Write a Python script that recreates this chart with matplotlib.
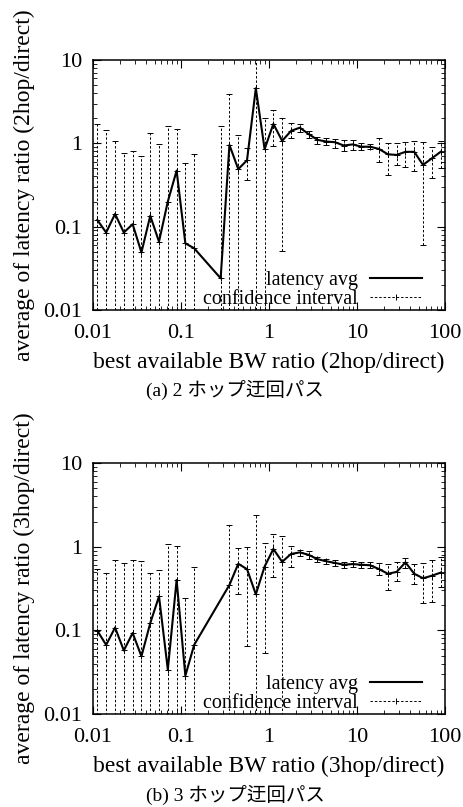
import matplotlib
matplotlib.use("Agg")
import matplotlib.pyplot as plt
from matplotlib.lines import Line2D

plt.rcParams['font.family'] = ['Liberation Serif', 'Noto Sans CJK JP']

# --- data: bin centers (log spaced) and values ---
x_2hop = [0.0112, 0.0141, 0.0178, 0.0224, 0.0282, 0.0355, 0.0447, 0.0562, 0.0708, 0.0891,
          0.112, 0.141, 0.282, 0.355, 0.447, 0.562, 0.708, 0.891, 1.12, 1.41,
          1.78, 2.24, 2.82, 3.55, 4.47, 5.62, 7.08, 8.91, 11.2, 14.1,
          17.8, 22.4, 28.2, 35.5, 44.7, 56.2, 70.8, 89.1]
avg_2hop = [0.12, 0.085, 0.142, 0.085, 0.107, 0.049, 0.135, 0.066, 0.20, 0.47,
            0.063, 0.055, 0.024, 0.955, 0.49, 0.625, 4.57, 0.85, 1.71, 1.07,
            1.41, 1.54, 1.29, 1.10, 1.05, 1.03, 0.94, 0.97, 0.91, 0.91,
            0.855, 0.738, 0.725, 0.79, 0.79, 0.55, 0.66, 0.79]
hi_2hop = [1.69, 1.45, 1.07, 0.76, 0.81, 0.71, 1.34, 0.98, 1.61, 1.47,
           0.58, 0.745, 1.63, 3.88, 1.26, 0.89, 20.0, 2.03, 2.51, 2.02,
           1.74, 1.70, 1.42, 1.20, 1.15, 1.12, 1.10, 1.10, 1.00, 0.98,
           1.17, 1.00, 1.00, 1.03, 1.07, 1.03, 0.91, 1.07]
lo_2hop = [0.001, 0.001, 0.001, 0.001, 0.001, 0.001, 0.001, 0.001, 0.001, 0.001,
           0.001, 0.001, 0.001, 0.001, 0.001, 0.363, 0.001, 0.001, 0.94, 0.051,
           1.15, 1.35, 1.15, 0.98, 0.95, 0.88, 0.80, 0.83, 0.82, 0.85,
           0.60, 0.42, 0.55, 0.52, 0.46, 0.06, 0.38, 0.50]

x_3hop = [0.0112, 0.0141, 0.0178, 0.0224, 0.0282, 0.0355, 0.0447, 0.0562, 0.0708, 0.0891,
          0.112, 0.141, 0.355, 0.447, 0.562, 0.708, 0.891, 1.12, 1.41,
          1.78, 2.24, 2.82, 3.55, 4.47, 5.62, 7.08, 8.91, 11.2, 14.1,
          17.8, 22.4, 28.2, 35.5, 44.7, 56.2, 70.8, 89.1]
avg_3hop = [0.099, 0.067, 0.108, 0.0575, 0.093, 0.049, 0.122, 0.255, 0.034, 0.40,
            0.0287, 0.067, 0.35, 0.625, 0.54, 0.27, 0.58, 0.94, 0.66,
            0.82, 0.855, 0.80, 0.71, 0.67, 0.64, 0.61, 0.62, 0.61, 0.60,
            0.54, 0.475, 0.50, 0.65, 0.475, 0.42, 0.45, 0.49]
hi_3hop = [0.54, 0.49, 0.69, 0.64, 0.69, 0.67, 0.49, 0.52, 1.08, 1.03,
           0.243, 0.58, 1.80, 0.96, 1.00, 2.41, 1.10, 1.42, 1.33,
           1.03, 0.92, 0.88, 0.76, 0.72, 0.70, 0.66, 0.67, 0.66, 0.65,
           0.64, 0.62, 0.66, 0.73, 0.62, 0.64, 0.70, 0.75]
lo_3hop = [0.001, 0.001, 0.001, 0.001, 0.001, 0.001, 0.001, 0.001, 0.001, 0.001,
           0.001, 0.001, 0.001, 0.27, 0.065, 0.001, 0.054, 0.43, 0.001,
           0.58, 0.78, 0.72, 0.66, 0.62, 0.59, 0.56, 0.57, 0.56, 0.55,
           0.46, 0.30, 0.39, 0.55, 0.36, 0.21, 0.22, 0.33]

TICK_FS = 16
LABEL_FS = 17
LEG_FS = 14.5


def draw_panel(ax, x, avg, lo, hi, hop):
    yerr = [[a - l for a, l in zip(avg, lo)], [h - a for a, h in zip(avg, hi)]]
    eb = ax.errorbar(x, avg, yerr=yerr, fmt='+', color='black', ecolor='black',
                     markersize=4, mew=0.7, elinewidth=0.7, capsize=2, capthick=0.7,
                     zorder=2)
    eb[2][0].set_linestyle((0, (2.5, 2)))
    ax.plot(x, avg, color='black', lw=1.5, zorder=3)

    ax.set_xscale('log')
    ax.set_yscale('log')
    ax.set_xlim(0.01, 100)
    ax.set_ylim(0.01, 10)
    ax.set_xticks([0.01, 0.1, 1, 10, 100])
    ax.set_xticklabels(['0.01', '0.1', '1', '10', '100'])
    ax.set_yticks([0.01, 0.1, 1, 10])
    ax.set_yticklabels(['0.01', '0.1', '1', '10'])
    ax.tick_params(which='both', direction='in', top=True, right=True, labelsize=TICK_FS)
    ax.tick_params(which='major', length=6, width=0.8, pad=8)
    ax.tick_params(axis='x', which='major', pad=10)
    ax.tick_params(which='minor', length=3, width=0.6)
    for sp in ax.spines.values():
        sp.set_linewidth(1.1)

    ax.set_xlabel(f'best available BW ratio ({hop}/direct)', fontsize=LABEL_FS, va='center')
    ax.xaxis.set_label_coords(0.5, -0.21)
    ax.set_ylabel(f'average of latency ratio ({hop}/direct)', fontsize=LABEL_FS, va='center')
    ax.yaxis.set_label_coords(-0.196, 0.5)

    handles = [Line2D([], [], color='black', lw=1.5),
               Line2D([], [], color='black', lw=0.7, ls=(0, (2.5, 2)), marker='|',
                      markersize=4, mew=0.7)]
    ax.legend(handles, ['latency avg', 'confidence interval'], loc='lower right',
              bbox_to_anchor=(0.935, 0.005), frameon=False, markerfirst=False,
              fontsize=LEG_FS, handlelength=2.6, handletextpad=0.6, labelspacing=0.0,
              borderpad=0, borderaxespad=0, numpoints=1)


fig = plt.figure(figsize=(4.63, 8.07), dpi=100)
ax_a = fig.add_axes([0.2009, 0.6159, 0.7603, 0.3098])
ax_b = fig.add_axes([0.2009, 0.1152, 0.7603, 0.3110])

draw_panel(ax_a, x_2hop, avg_2hop, lo_2hop, hi_2hop, '2hop')
draw_panel(ax_b, x_3hop, avg_3hop, lo_3hop, hi_3hop, '3hop')

fig.text(0.508, 1 - 390 / 807, '(a) 2 ホップ迂回パス', ha='center', va='center', fontsize=14)
fig.text(0.508, 1 - 795 / 807, '(b) 3 ホップ迂回パス', ha='center', va='center', fontsize=14)

fig.savefig('out.png', dpi=100)
